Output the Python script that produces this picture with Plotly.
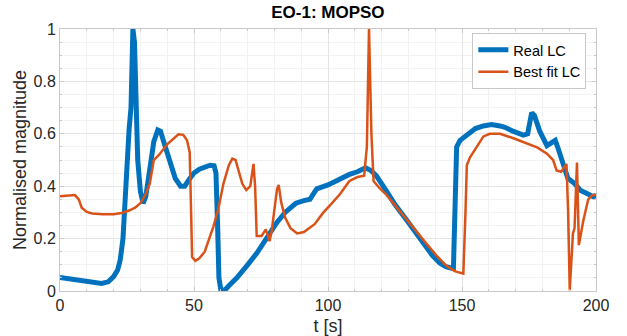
import plotly.graph_objects as go

# Real LC (blue)
real_t = [0, 3, 6, 10, 13, 15.5, 18, 20, 21.5, 22.5, 23.5, 24.3, 25, 25.8, 26.5, 27.2, 27.8, 28.3, 29, 30,
          31, 32, 33.5, 35, 36.5, 37.5, 39, 41, 43, 45, 46.5, 48.5, 50, 52, 54, 56, 57.5, 58.2, 58.8, 59.3,
          60, 61.5, 63, 66, 70, 73.4, 77, 80.8, 84, 88, 91, 93.3, 94.5, 95.8, 100, 104.5, 108, 111, 112.5, 114,
          116, 118, 121.9, 125, 129.4, 133, 136.8, 139, 141.8, 144, 146.8, 147.5, 148, 149.3, 151, 153, 155, 158,
          161, 164.2, 166, 169, 172.9, 174.5, 176, 177, 179, 181.7, 184.8, 186, 188, 189.5, 192, 194.1, 197, 199, 200]
real_v = [0.052, 0.047, 0.042, 0.037, 0.032, 0.029, 0.035, 0.055, 0.08, 0.12, 0.2, 0.35, 0.53, 0.62, 0.7, 1.0, 0.95, 0.7, 0.5, 0.38,
          0.335, 0.36, 0.47, 0.57, 0.615, 0.61, 0.56, 0.49, 0.43, 0.40, 0.40, 0.43, 0.45, 0.465, 0.475, 0.48, 0.478, 0.45, 0.25, 0.05,
          0.005, 0.003, 0.02, 0.05, 0.1, 0.144, 0.2, 0.26, 0.3, 0.335, 0.345, 0.35, 0.37, 0.39, 0.405, 0.43, 0.445, 0.455, 0.46, 0.47,
          0.46, 0.44, 0.38, 0.33, 0.27, 0.22, 0.17, 0.135, 0.106, 0.093, 0.085, 0.3, 0.55, 0.575, 0.59, 0.605, 0.62, 0.63,
          0.635, 0.63, 0.625, 0.61, 0.595, 0.6, 0.68, 0.67, 0.61, 0.555, 0.575, 0.54, 0.47, 0.43, 0.41, 0.385, 0.37, 0.36, 0.365]

# Best fit LC (orange)
fit_t = [0, 3, 5.6, 7, 8.1, 10, 12, 16, 20, 23, 26, 28, 30, 32, 33.5, 35, 37, 40, 42, 44.2, 46, 47.4, 48.4, 48.8, 49.3,
         50.5, 52, 54, 57.2, 59, 61, 63, 64.3, 65.5, 66.5, 68, 69.5, 71, 72.2, 72.8, 73.4, 75.2, 76.8, 78.2, 79, 81,
         81.6, 82.5, 84, 86, 88.5, 91, 95, 98.3, 101, 104.5, 108, 111, 113.5, 114.5, 115.3, 116.2, 117, 119, 121.9,
         125.5, 129.4, 133, 136.8, 140.5, 144.3, 147.5, 150.5, 151.3, 151.8, 153, 154.2, 156.7, 158, 160.4, 164.2,
         169.2, 174.1, 178, 181.6, 184, 185.3, 187, 189, 189.6, 190.2, 191.4, 192, 192.9, 193.6, 195.3, 197.1, 198.5, 200]
fit_v = [0.362, 0.365, 0.366, 0.35, 0.318, 0.302, 0.296, 0.293, 0.293, 0.298, 0.308, 0.318, 0.335, 0.37, 0.41, 0.5, 0.52, 0.56, 0.58, 0.598, 0.596, 0.575, 0.53, 0.3, 0.13,
         0.115, 0.125, 0.15, 0.245, 0.31, 0.41, 0.48, 0.505, 0.5, 0.46, 0.41, 0.385, 0.4, 0.485, 0.4, 0.21, 0.21, 0.235, 0.19, 0.23, 0.39,
         0.405, 0.34, 0.28, 0.24, 0.22, 0.225, 0.255, 0.3, 0.33, 0.37, 0.42, 0.435, 0.44, 0.55, 1.0, 0.6, 0.42, 0.395, 0.366,
         0.32, 0.27, 0.225, 0.18, 0.135, 0.095, 0.075, 0.066, 0.3, 0.48, 0.51, 0.53, 0.57, 0.59, 0.6, 0.6,
         0.583, 0.565, 0.548, 0.525, 0.5, 0.46, 0.455, 0.485, 0.3, 0.003, 0.22, 0.24, 0.49, 0.175, 0.27, 0.35, 0.365, 0.368]

x_ticks = [0, 50, 100, 150, 200]
y_ticks = [0, 0.2, 0.4, 0.6, 0.8, 1]
y_tick_text = ["0", "0.2", "0.4", "0.6", "0.8", "1"]

fig = go.Figure()
fig.add_trace(go.Scatter(x=real_t, y=real_v, mode="lines", name="Real LC",
                         line=dict(color="#0072BD", width=5)))
fig.add_trace(go.Scatter(x=fit_t, y=fit_v, mode="lines", name="Best fit LC",
                         line=dict(color="#D95319", width=2.5)))

font_family = "Liberation Sans, Arial, Helvetica, sans-serif"
axis_common = dict(
    showline=True, linecolor="#c8c8c8", linewidth=1, mirror="ticks",
    ticks="inside", ticklen=4, tickcolor="#c8c8c8",
    showgrid=True, gridcolor="#e4e4e4", gridwidth=1,
    zeroline=False, automargin=False,
    tickfont=dict(family=font_family, size=16, color="#262626"),
)

fig.update_layout(
    width=627, height=336,
    margin=dict(l=60, r=31, t=29, b=45),
    paper_bgcolor="white", plot_bgcolor="white",
    title=dict(text="<b>EO-1: MOPSO</b>", x=0.523, xanchor="center", y=0.965, yanchor="middle",
               font=dict(family=font_family, size=17, color="black")),
    showlegend=True,
    legend=dict(x=0.982, xanchor="right", y=0.985, yanchor="top",
                bgcolor="white", bordercolor="#c8c8c8", borderwidth=1,
                font=dict(family=font_family, size=14.5, color="black"),
                itemwidth=30, tracegroupgap=0),
    xaxis=dict(range=[0, 200], tickvals=x_ticks,
               title=dict(text="t [s]", font=dict(family=font_family, size=18, color="#262626"), standoff=6),
               minor=dict(dtick=10, showgrid=True, gridcolor="#f2f2f2", ticks="inside", ticklen=2, tickcolor="#c8c8c8"),
               **axis_common),
    yaxis=dict(range=[0, 1], tickvals=y_ticks, ticktext=y_tick_text,
               title=dict(text="Normalised magnitude", font=dict(family=font_family, size=18, color="#262626"), standoff=2),
               minor=dict(dtick=0.05, showgrid=True, gridcolor="#f2f2f2", ticks="inside", ticklen=2, tickcolor="#c8c8c8"),
               **axis_common),
)

fig.write_html("out.html")
